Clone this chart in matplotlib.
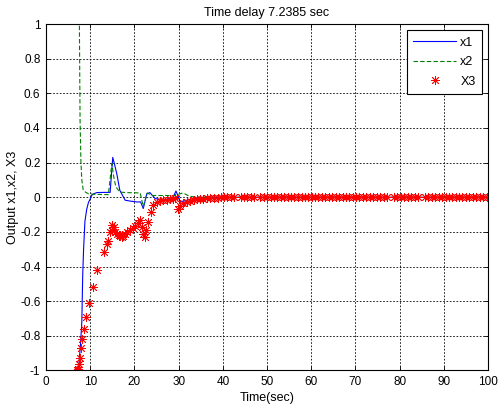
import matplotlib
matplotlib.use('Agg')
import matplotlib.pyplot as plt

plt.rcParams['font.family'] = ['Liberation Sans', 'DejaVu Sans']

# x1 (blue solid)
t1 = [7.0, 7.4, 7.8, 8.1, 8.3, 8.5, 8.8, 9.2, 9.6, 10.0, 10.3, 10.8, 11.5, 13.0, 14.5,
      15.1, 15.5, 16.0, 16.7, 17.9, 19.0, 20.5, 21.4, 22.0, 22.8, 23.5, 24.7, 26.0,
      27.3, 28.8, 29.4, 29.9, 30.3, 31.4, 33.3, 34.9, 37.0, 40.0, 50.0, 60.0, 70.0,
      80.0, 90.0, 100.0]
x1 = [-1.0, -0.98, -0.85, -0.72, -0.45, -0.3, -0.14, -0.07, -0.03, -0.01, 0.01,
      0.02, 0.027, 0.028, 0.028, 0.23, 0.19, 0.137, 0.04, -0.017, -0.022, -0.027,
      -0.027, -0.065, 0.02, 0.027, -0.008, -0.012, -0.013, 0.002, 0.036, 0.005,
      -0.027, -0.02, -0.008, -0.003, 0.0, 0.0, 0.0, 0.0, 0.0, 0.0, 0.0, 0.0]

# x2 (green dashed)
t2 = [7.4, 7.55, 7.7, 7.9, 8.1, 8.4, 8.9, 9.6, 11.0, 14.1, 14.9, 15.3, 15.8, 16.7,
      18.0, 21.3, 22.0, 22.9, 23.9, 26.0, 29.0, 31.0, 32.5, 34.0, 37.0, 40.0, 50.0,
      60.0, 70.0, 80.0, 90.0, 100.0]
x2 = [1.6, 1.0, 0.45, 0.2, 0.1, 0.045, 0.03, 0.02, 0.017, 0.015, 0.195, 0.12, 0.06,
      0.03, 0.027, 0.025, -0.055, 0.025, 0.01, 0.01, 0.01, 0.025, 0.005, 0.002, 0.0,
      0.0, 0.0, 0.0, 0.0, 0.0, 0.0, 0.0]

# X3 (red stars)
t3 = [7.0, 7.15, 7.3, 7.5, 7.7, 7.85, 8.2, 8.6, 9.05, 9.8, 10.55, 11.6, 13.2, 13.7,
      14.0, 14.4, 14.9, 15.0, 15.3, 15.6, 16.0, 16.4, 16.8, 17.1, 17.5, 17.9, 18.4,
      19.0, 19.6, 20.1, 20.7, 21.3, 21.7, 22.0, 22.3, 22.6, 23.0, 23.75, 24.3, 25.0,
      25.8, 26.5, 27.3, 28.0, 28.8, 29.2, 29.9, 30.4, 31.0, 31.8, 32.6, 33.4, 34.1,
      34.9, 35.6, 36.4, 37.2, 38.0, 38.8, 39.5, 40.3, 41.0, 41.8, 42.6, 44.0, 44.7,
      45.5, 46.3, 47.0, 48.5, 49.3, 50.0, 50.8, 51.6, 52.3, 53.1, 53.9, 54.7, 55.4,
      56.2, 57.0, 57.8, 58.6, 59.3, 60.1, 60.9, 61.6, 62.4, 63.2, 64.0, 64.7, 65.5,
      66.3, 67.1, 67.8, 68.6, 69.4, 70.2, 70.9, 71.7, 72.5, 73.3, 74.0, 74.8, 75.6,
      76.4, 77.1, 78.7, 79.5, 80.3, 81.0, 81.8, 82.6, 83.4, 84.1, 85.7, 86.5, 87.3,
      88.0, 88.8, 89.6, 90.4, 91.1, 91.9, 92.7, 93.5, 94.2, 95.0, 95.8, 96.6, 97.3,
      98.1, 98.9, 99.7]
x3 = [-1.0, -0.995, -0.99, -0.96, -0.93, -0.87, -0.82, -0.76, -0.69, -0.61, -0.52,
      -0.42, -0.315, -0.27, -0.25, -0.2, -0.16, -0.19, -0.17, -0.2, -0.21, -0.22,
      -0.225, -0.23, -0.225, -0.21, -0.2, -0.19, -0.18, -0.167, -0.15, -0.133,
      -0.17, -0.21, -0.23, -0.19, -0.14, -0.085, -0.045, -0.03, -0.021, -0.016,
      -0.013, -0.011, -0.01, -0.005, -0.065, -0.05, -0.036, -0.028, -0.021, -0.016,
      -0.012, -0.01, -0.008, -0.006, -0.004, -0.003, -0.002, -0.001, 0.0, 0.0, 0.0,
      0.0, 0.0, 0.0, 0.0, 0.0, 0.0, 0.0, 0.0, 0.0, 0.0, 0.0, 0.0, 0.0, 0.0, 0.0,
      0.0, 0.0, 0.0, 0.0, 0.0, 0.0, 0.0, 0.0, 0.0, 0.0, 0.0, 0.0, 0.0, 0.0, 0.0,
      0.0, 0.0, 0.0, 0.0, 0.0, 0.0, 0.0, 0.0, 0.0, 0.0, 0.0, 0.0, 0.0, 0.0, 0.0,
      0.0, 0.0, 0.0, 0.0, 0.0, 0.0, 0.0, 0.0, 0.0, 0.0, 0.0, 0.0, 0.0, 0.0, 0.0,
      0.0, 0.0, 0.0, 0.0, 0.0, 0.0, 0.0, 0.0, 0.0, 0.0, 0.0]

xticks = list(range(0, 101, 10))
yticks = [-1, -0.8, -0.6, -0.4, -0.2, 0, 0.2, 0.4, 0.6, 0.8, 1]
ylabels = ['-1', '-0.8', '-0.6', '-0.4', '-0.2', '0', '0.2', '0.4', '0.6', '0.8', '1']

fig = plt.figure(figsize=(4.98, 4.07), dpi=100)
ax = fig.add_axes([0.0924, 0.0897, 0.8876, 0.8513])

ax.plot(t1, x1, color='#0000ff', lw=0.8, label='x1')
ax.plot(t2, x2, color='#008000', lw=0.8, ls=(0, (4, 2)), label='x2')
ax.plot(t3, x3, ls='none', marker=(8, 2, 0), markersize=6.5, color='#ff0000',
        markeredgewidth=0.6, label='X3')

ax.set_xlim(0, 100)
ax.set_ylim(-1, 1)
ax.set_xticks(xticks)
ax.set_yticks(yticks)
ax.set_yticklabels(ylabels)
ax.tick_params(direction='in', top=True, right=True, labelsize=8.5, length=3,
               width=0.6, pad=4)
ax.grid(True, color='black', ls=(0, (2, 2)), lw=0.6)
for s in ax.spines.values():
    s.set_linewidth(0.8)

ax.set_title('Time delay 7.2385 sec', fontsize=9, pad=5.5)
ax.set_xlabel('Time(sec)', fontsize=9, labelpad=3)
ax.set_ylabel('Output x1,x2, X3', fontsize=9, labelpad=1)

leg = ax.legend(loc='upper right', fontsize=9, fancybox=False, edgecolor='black',
                framealpha=1, borderaxespad=0.5, handlelength=3.4,
                handletextpad=0.35, labelspacing=0.6, borderpad=0.5)
leg.get_frame().set_linewidth(0.8)

fig.savefig('out.png', dpi=100)
